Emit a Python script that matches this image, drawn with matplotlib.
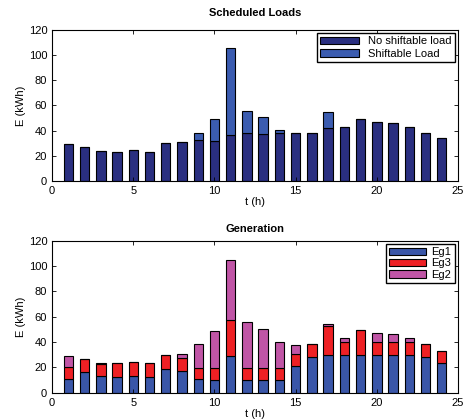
import matplotlib
matplotlib.use("Agg")
import matplotlib.pyplot as plt
import numpy as np

plt.rcParams['font.family'] = ['Liberation Sans', 'DejaVu Sans']

hours = np.arange(1, 25)

# Scheduled loads (kWh)
no_shift = [29, 27, 23.6, 23.3, 24.4, 23.3, 29.9, 30.7, 32.3, 31.5, 36.6, 37.9,
            37.1, 38.5, 37.9, 38.4, 41.9, 43.2, 49.5, 47.2, 46.4, 43.2, 38.4, 33.9]
shiftable = [0, 0, 0, 0, 0, 0, 0, 0, 6.1, 17.8, 68.8, 17.7,
             13.5, 2.0, 0, 0, 12.7, 0, 0, 0, 0, 0, 0, 0]

# Generation (kWh)
eg1 = [10.5, 16.6, 13.4, 12.6, 13.4, 12.6, 19.0, 17.4, 10.5, 9.7, 29.2, 9.7,
       10.0, 9.7, 20.8, 28.2, 29.5, 29.5, 29.5, 29.5, 29.5, 29.5, 28.2, 23.4]
eg3 = [10.0, 10.2, 9.1, 10.7, 11.0, 10.7, 10.9, 10.2, 9.2, 10.0, 28.4, 10.0,
       9.7, 10.0, 9.5, 10.2, 23.1, 10.2, 20.0, 10.2, 10.2, 10.2, 10.2, 9.8]
eg2 = [8.5, 0, 1.1, 0, 0, 0, 0, 3.1, 18.5, 29.3, 47.4, 35.8,
       30.8, 20.6, 7.3, 0, 1.6, 3.2, 0, 7.1, 6.3, 3.3, 0, 0]

fig = plt.figure(figsize=(4.65, 4.2), dpi=100)
ax1 = fig.add_axes([0.112, 0.569, 0.873, 0.360])
ax2 = fig.add_axes([0.112, 0.065, 0.873, 0.362])

w = 0.58
edge = dict(edgecolor='black', linewidth=0.8)

ax1.bar(hours, no_shift, w, color='#2a2f80', label='No shiftable load', **edge)
ax1.bar(hours, shiftable, w, bottom=no_shift, color='#3b5cb0', label='Shiftable Load', **edge)
ax1.set_title('Scheduled Loads', fontsize=8, fontweight='bold', pad=10)
ax1.legend(loc='upper right', fontsize=8, fancybox=False, edgecolor='black',
           framealpha=1, borderaxespad=0.3, handlelength=3.5, borderpad=0.3,
           labelspacing=0.2)

b2 = np.array(eg1) + np.array(eg3)
ax2.bar(hours, eg1, w, color='#3a56a8', label='Eg1', **edge)
ax2.bar(hours, eg3, w, bottom=eg1, color='#ee2024', label='Eg3', **edge)
ax2.bar(hours, eg2, w, bottom=b2, color='#c055a6', label='Eg2', **edge)
ax2.set_title('Generation', fontsize=8, fontweight='bold')
ax2.legend(loc='upper right', fontsize=8, fancybox=False, edgecolor='black',
           framealpha=1, borderaxespad=0.3, handlelength=3.3, borderpad=0.3,
           labelspacing=0.1, handletextpad=0.5)

for ax in (ax1, ax2):
    ax.set_xlim(0, 25)
    ax.set_ylim(0, 120)
    ax.set_xticks([0, 5, 10, 15, 20, 25])
    ax.set_yticks([0, 20, 40, 60, 80, 100, 120])
    ax.tick_params(direction='in', top=True, right=True, labelsize=8,
                   length=3, width=0.6)
    ax.set_xlabel('t (h)', fontsize=8, labelpad=1)
    ax.set_ylabel('E (kWh)', fontsize=8, labelpad=2)
    for s in ax.spines.values():
        s.set_linewidth(0.8)

fig.savefig('out.png', dpi=100)
